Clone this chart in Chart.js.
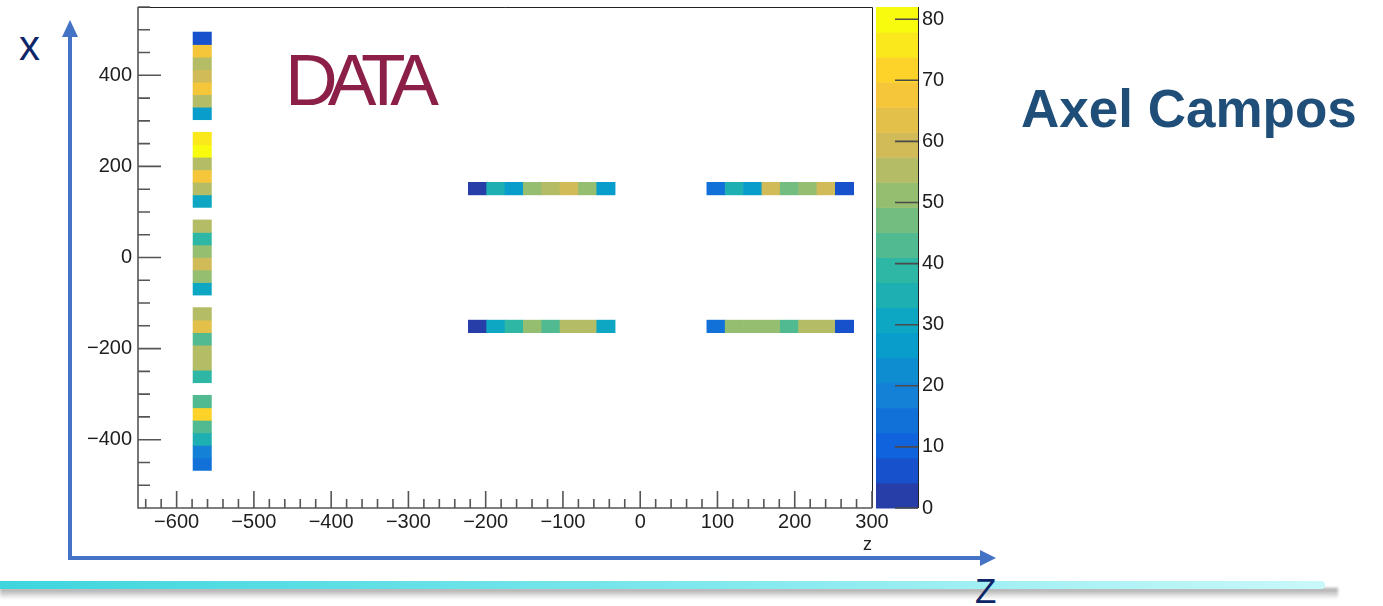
<!DOCTYPE html>
<html lang="en">
<head>
<meta charset="UTF-8">
<title>DATA - x vs z occupancy</title>
<script src="https://cdn.jsdelivr.net/npm/chart.js"></script>
<style>
  html, body { margin: 0; padding: 0; background: #fff; }
  body { width: 1383px; height: 606px; position: relative; overflow: hidden; font-family: "Liberation Sans", Arial, sans-serif; }
  .deco { position: absolute; }
  #plot { position: absolute; left: 0; top: 0; }
  .axis-v { left: 68px; top: 34px; width: 4px; height: 526px; background: #4472c4; }
  .tip-up { left: 62px; top: 20px; width: 0; height: 0; border-left: 8px solid transparent; border-right: 8px solid transparent; border-bottom: 17px solid #4472c4; }
  .axis-h { left: 68px; top: 556px; width: 914px; height: 4px; background: #4472c4; }
  .tip-right { left: 980px; top: 550px; width: 0; height: 0; border-top: 8px solid transparent; border-bottom: 8px solid transparent; border-left: 16px solid #4472c4; }
  .lbl { line-height: 1; color: #0d2668; white-space: nowrap; }
  .lbl-x { left: 19px; top: 25px; font-size: 42px; }
  .lbl-z { left: 975px; top: 573px; font-size: 35px; }
  .shadow { left: 0; top: 588px; width: 1338px; height: 11px; background: linear-gradient(to bottom, rgba(110,110,110,0.65), rgba(210,210,210,0)); filter: blur(1.5px); }
  .band { left: 0; top: 581px; width: 1325px; height: 8px; border-radius: 0 4px 4px 0; background: linear-gradient(90deg, #3fd5dd, #82e9ee 55%, #c9f8fa); }
  .data { left: 285px; top: 43px; font-size: 73px; letter-spacing: -10px; color: #8b1f47; line-height: 1; }
  .author { left: 1021px; top: 82px; font-size: 53px; font-weight: bold; color: #1f4e79; line-height: 1; white-space: nowrap; }
</style>
</head>
<body>
  <div class="deco shadow"></div>
  <div class="deco band"></div>
  <div class="deco axis-v"></div>
  <div class="deco tip-up"></div>
  <div class="deco axis-h"></div>
  <div class="deco tip-right"></div>
  <div class="deco lbl lbl-x">x</div>
  <div class="deco lbl lbl-z">Z</div>
  <div class="deco data">DATA</div>
  <div class="deco author">Axel Campos</div>
  <canvas id="plot" width="1383" height="606"></canvas>

  <script>
    // histogram binning (TH2 style): z along horizontal, x along vertical
    const zRange = [-650, 300];
    const xRange = [-550, 550];
    const zBinCount = 40;
    const xBinCount = 40;
    const contentMax = 82;
    const levelCount = 20;

    // tick steps
    const zMajor = 100, zMinor = 20;
    const xMajor = 200, xMinor = 50;
    const colorMajor = 10;

    // the long column at z bin 3, x bins 3..37 (bottom to top), null = empty bin
    const columnZBin = 3;
    const columnFirstXBin = 3;
    const columnCounts = [16, 20, 35, 43, 70, 43, null, 37, 55, 55, 43, 64, 55, null,
                          30, 51, 60, 51, 39, 55, null, 30, 55, 68, 55, 82, 76, null,
                          27, 55, 68, 60, 55, 68, 6];

    // the four short rows
    const upperXBin = 25;
    const lowerXBin = 14;
    const midFirstZBin = 18;
    const rightFirstZBin = 31;
    const upperMidCounts   = [2, 33, 28, 51, 55, 60, 51, 26];
    const upperRightCounts = [14, 35, 27, 60, 47, 51, 60, 6];
    const lowerMidCounts   = [2, 30, 39, 51, 43, 55, 55, 30];
    const lowerRightCounts = [14, 51, 51, 51, 43, 55, 55, 6];

    // kBird palette
    const birdStops = [0, 0.125, 0.25, 0.375, 0.5, 0.625, 0.75, 0.875, 1];
    const birdR = [0.2082, 0.0592, 0.0780, 0.0232, 0.1802, 0.5301, 0.8186, 0.9956, 0.9764];
    const birdG = [0.1664, 0.3599, 0.5041, 0.6419, 0.7178, 0.7492, 0.7328, 0.7862, 0.9832];
    const birdB = [0.5293, 0.8684, 0.8385, 0.7914, 0.6425, 0.4662, 0.3499, 0.1968, 0.0539];

    function bird(f) {
      let k = 0;
      while (k < birdStops.length - 2 && f > birdStops[k + 1]) k++;
      const t = (f - birdStops[k]) / (birdStops[k + 1] - birdStops[k]);
      const c = arr => Math.round(255 * (arr[k] + (arr[k + 1] - arr[k]) * t));
      return `rgb(${c(birdR)}, ${c(birdG)}, ${c(birdB)})`;
    }
    function levelColor(i) {
      return bird(Math.floor((i + 0.99) * 255 / levelCount) / 254);
    }
    function valueColor(v) {
      return levelColor(Math.min(levelCount - 1, Math.floor(v / contentMax * levelCount)));
    }

    const zStep = (zRange[1] - zRange[0]) / zBinCount;
    const xStep = (xRange[1] - xRange[0]) / xBinCount;
    function cell(zBin, xBin, v) {
      return {
        x: zRange[0] + (zBin + 0.5) * zStep,
        y: [xRange[0] + xBin * xStep, xRange[0] + (xBin + 1) * xStep],
        v: v
      };
    }

    const cells = [];
    columnCounts.forEach((v, i) => {
      if (v !== null) cells.push(cell(columnZBin, columnFirstXBin + i, v));
    });
    [[upperMidCounts, midFirstZBin, upperXBin],
     [upperRightCounts, rightFirstZBin, upperXBin],
     [lowerMidCounts, midFirstZBin, lowerXBin],
     [lowerRightCounts, rightFirstZBin, lowerXBin]].forEach(([counts, z0, xb]) => {
      counts.forEach((v, i) => cells.push(cell(z0 + i, xb, v)));
    });

    const minus = v => String(v).replace('-', '\u2212');
    const tickFont = { family: '"Liberation Sans", Arial, sans-serif', size: 20 };

    // keep tick-label padding from pushing the frame around
    function noEdgePadding(s) {
      s.paddingTop = 0; s.paddingBottom = 0;
      s.paddingLeft = 0; s.paddingRight = 0;
    }

    // ROOT-like frame, inward ticks and colour palette box
    const rootFrame = {
      id: 'rootFrame',
      afterDatasetsDraw(chart) {
        const { ctx, chartArea: a, scales: { x, y, zc } } = chart;
        ctx.save();

        // palette
        const barL = a.right + 4, barR = a.right + 46;
        for (let i = 0; i < levelCount; i++) {
          const y0 = zc.getPixelForValue(i * contentMax / levelCount);
          const y1 = zc.getPixelForValue((i + 1) * contentMax / levelCount);
          ctx.fillStyle = levelColor(i);
          ctx.fillRect(barL, y1, barR - barL, y0 - y1 + 0.5);
        }
        ctx.strokeStyle = '#222';
        ctx.lineWidth = 1;
        ctx.beginPath();
        ctx.moveTo(barR + 0.5, a.top); ctx.lineTo(barR + 0.5, a.bottom);
        ctx.stroke();
        ctx.strokeStyle = '#4a4a4a';
        ctx.lineWidth = 1.6;
        ctx.beginPath();
        for (let v = 0; v <= contentMax; v += colorMajor) {
          const py = zc.getPixelForValue(v);
          ctx.moveTo(barR, py); ctx.lineTo(barR - 23, py);
        }
        ctx.stroke();

        // top and right of the frame
        ctx.strokeStyle = '#222';
        ctx.lineWidth = 1;
        ctx.beginPath();
        ctx.moveTo(a.left, a.top + 0.5); ctx.lineTo(a.right + 0.5, a.top + 0.5);
        ctx.lineTo(a.right + 0.5, a.bottom);
        ctx.stroke();

        // axes with inward ticks
        ctx.strokeStyle = '#555';
        ctx.lineWidth = 1.6;
        ctx.beginPath();
        ctx.moveTo(a.left, a.top); ctx.lineTo(a.left, a.bottom); ctx.lineTo(a.right, a.bottom);
        const zFirst = Math.ceil(zRange[0] / zMinor) * zMinor;
        for (let v = zFirst; v <= zRange[1]; v += zMinor) {
          const px = x.getPixelForValue(v);
          const len = v % zMajor === 0 ? 17 : 9;
          ctx.moveTo(px, a.bottom); ctx.lineTo(px, a.bottom - len);
        }
        const xFirst = Math.ceil(xRange[0] / xMinor) * xMinor;
        for (let v = xFirst; v <= xRange[1]; v += xMinor) {
          const py = y.getPixelForValue(v);
          const len = v % xMajor === 0 ? 23 : 12;
          ctx.moveTo(a.left, py); ctx.lineTo(a.left + len, py);
        }
        ctx.stroke();
        ctx.restore();
      }
    };

    new Chart(document.getElementById('plot'), {
      type: 'bar',
      data: {
        datasets: [{
          data: cells,
          backgroundColor: c => (c.raw ? valueColor(c.raw.v) : '#000'),
          borderWidth: 0,
          barPercentage: 1,
          categoryPercentage: 1,
          grouped: false
        }]
      },
      options: {
        responsive: false,
        animation: false,
        devicePixelRatio: 1,
        layout: { padding: { left: 0, top: 7, right: 391, bottom: 46 } },
        plugins: { legend: { display: false }, tooltip: { enabled: false } },
        scales: {
          x: {
            type: 'linear',
            min: zRange[0],
            max: zRange[1],
            offset: false,
            grid: { display: false, drawTicks: false, offset: false },
            border: { display: false },
            ticks: { stepSize: zMajor, includeBounds: false, autoSkip: false, maxRotation: 0,
                      padding: 2, color: '#1e1e1e', font: tickFont, callback: minus },
            title: { display: true, text: 'z', align: 'end', color: '#1e1e1e',
                     font: { family: tickFont.family, size: 18 }, padding: { top: 0, bottom: 4 } },
            afterFit: s => { s.height = 52; noEdgePadding(s); }
          },
          y: {
            type: 'linear',
            position: 'left',
            min: xRange[0],
            max: xRange[1],
            grid: { display: false, drawTicks: false },
            border: { display: false },
            ticks: { stepSize: xMajor, includeBounds: false, padding: 6,
                     color: '#1e1e1e', font: tickFont, callback: minus },
            afterFit: s => { s.width = 138; noEdgePadding(s); }
          },
          zc: {
            axis: 'y',
            type: 'linear',
            position: 'right',
            min: 0,
            max: contentMax,
            grid: { display: false, drawTicks: false },
            border: { display: false },
            ticks: { stepSize: colorMajor, includeBounds: false, padding: 50,
                     color: '#1e1e1e', font: tickFont },
            afterFit: s => { s.width = 120; noEdgePadding(s); }
          }
        }
      },
      plugins: [rootFrame]
    });
  </script>
</body>
</html>
